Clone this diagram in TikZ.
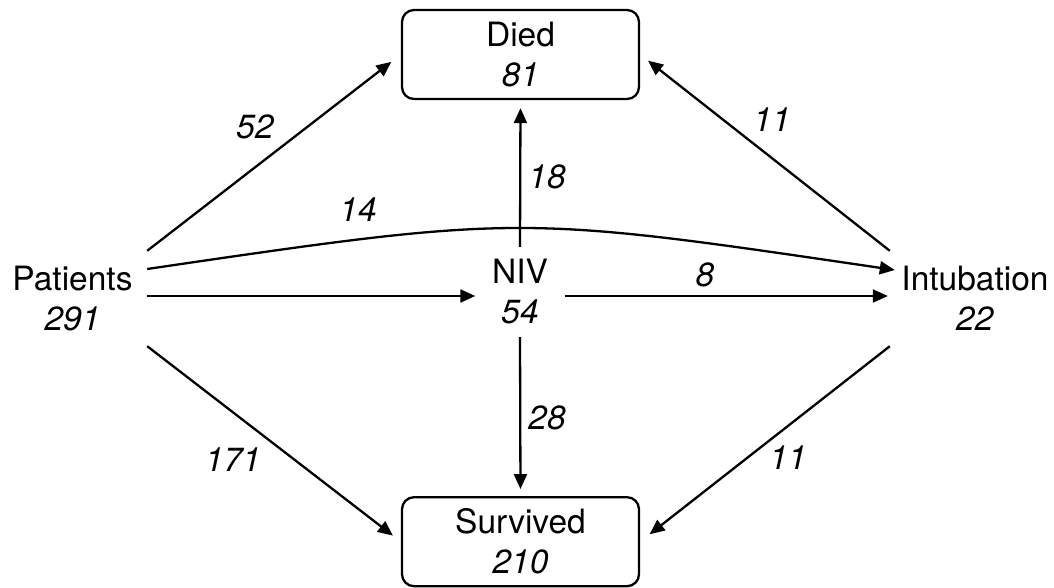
\documentclass[tikz,border=0pt]{standalone}
\usepackage{fontspec}
\setmainfont{TeX Gyre Heros}
\usetikzlibrary{arrows.meta}
\begin{document}
\begin{tikzpicture}[x=1pt,y=-1pt,
  every node/.style={font=\fontsize{33.5}{40}\selectfont, inner sep=0pt, align=center},
  state/.style={},
  box/.style={draw, line width=2.3pt, rounded corners=12pt, minimum width=237pt, minimum height=89pt},
  flow/.style={line width=2.3pt, -{Triangle[length=15pt,width=13pt]}},
  num/.style={font=\fontsize{33.5}{40}\selectfont\itshape}]
\useasboundingbox (0,0) rectangle (1054,588);
% nodes
\node[state, minimum width=149pt, minimum height=95pt] (pat) at (72.5,298.5) {Patients\\\textit{291}};
\node[state, minimum width=89pt, minimum height=90pt] (niv) at (520,292) {NIV\\\textit{54}};
\node[state, minimum width=170pt, minimum height=95pt] (int) at (975,298.5) {Intubation\\\textit{22}};
\node[box] (died) at (520.5,54.5) {Died\\\textit{81}};
\node[box] (surv) at (520.5,541.7) {Survived\\\textit{210}};
% connectors
\draw[flow, shorten >=12pt] (pat.north east) -- (died.west);
\draw[flow] ([yshift=29.5pt]pat.east) .. controls +(374,-55) and +(-374,-55) .. ([xshift=5pt,yshift=28.5pt]int.west);
\draw[flow] ([yshift=2.5pt]pat.east) -- ([yshift=-4pt]niv.west);
\draw[flow] ([yshift=-4pt]niv.east) -- ([xshift=-2pt,yshift=2.5pt]int.west);
\draw[flow, shorten >=8pt] (niv.north) -- (died.south);
\draw[flow, shorten >=7pt] (niv.south) -- (surv.north);
\draw[flow, shorten >=10pt] (pat.south east) -- (surv.west);
\draw[flow, shorten >=10pt] (int.north west) -- (died.east);
\draw[flow, shorten >=12pt] (int.south west) -- (surv.east);
% labels
\node[num] (l52) at (255,127) {52};
\node[num] (l14) at (358,210) {14};
\node[num] (l18) at (547,177) {18};
\node[num] (l8) at (705,275) {8};
\node[num] (l28) at (547,418) {28};
\node[num] (l171) at (233,460) {171};
\node[num] (l11a) at (772,120) {11};
\node[num] (l11b) at (788,458) {11};
\end{tikzpicture}
\end{document}
